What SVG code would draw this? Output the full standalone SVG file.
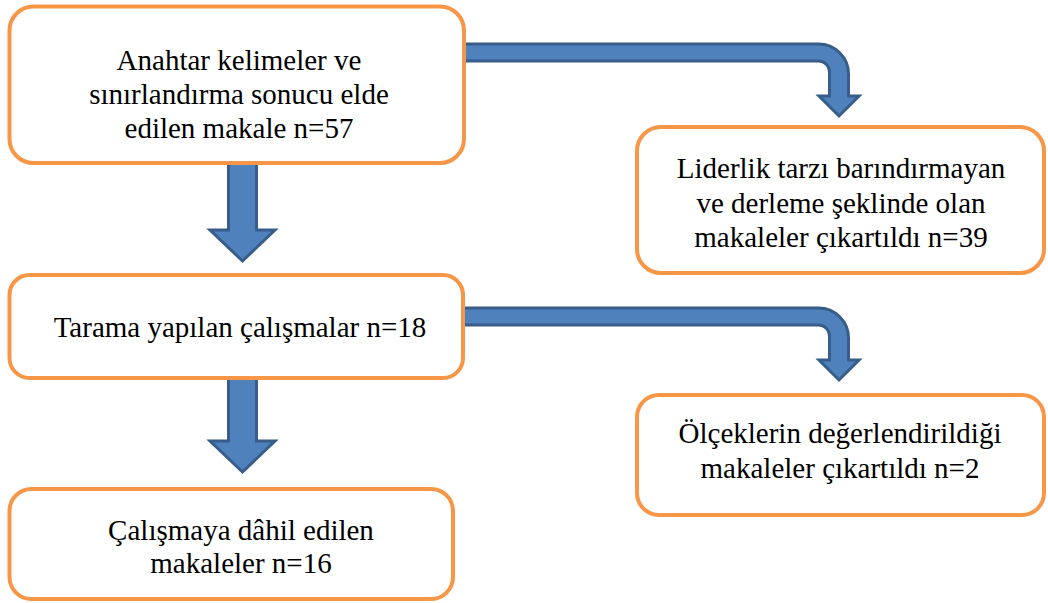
<svg xmlns="http://www.w3.org/2000/svg" width="1048" height="603" viewBox="0 0 1048 603">
<style>
.box{fill:#FFFFFF;stroke:#F79646;stroke-width:4}
.arr{fill:#4F81BD;stroke:#385D8A;stroke-width:3;stroke-linejoin:miter}
.t{font-family:'Liberation Serif','Times New Roman',serif;font-size:29px;fill:#000000;text-anchor:middle}
</style>
<rect width="1048" height="603" fill="#FFFFFF"/>
<g id="connectors">
<path class="arr" d="M 463 44 H 818.5 A 30 30 0 0 1 848.5 74 V 96 H 859 L 839 116 L 819 96 H 829.5 V 72 A 11 11 0 0 0 818.5 61 H 463 Z"/>
<path class="arr" d="M 463 308 H 818.5 A 30 30 0 0 1 848.5 338 V 360 H 859 L 839 380 L 819 360 H 829.5 V 336 A 11 11 0 0 0 818.5 325 H 463 Z"/>
<path class="arr" d="M 228.5 163 H 256.5 V 230 H 275 L 242.5 261 L 210 230 H 228.5 Z"/>
<path class="arr" d="M 228.5 378 H 256.5 V 441 H 275 L 242.5 472 L 210 441 H 228.5 Z"/>
</g>
<g id="node1">
<rect class="box" x="9.5" y="6.5" width="454.5" height="156.5" rx="24"/>
<text class="t" x="239" y="70">Anahtar kelimeler ve</text>
<text class="t" x="239" y="104">sınırlandırma sonucu elde</text>
<text class="t" x="239" y="138">edilen makale n=57</text>
</g>
<g id="node2">
<rect class="box" x="637" y="127" width="407" height="146" rx="24"/>
<text class="t" x="841" y="178">Liderlik tarzı barındırmayan</text>
<text class="t" x="841" y="212.5">ve derleme şeklinde olan</text>
<text class="t" x="841" y="247">makaleler çıkartıldı n=39</text>
</g>
<g id="node3">
<rect class="box" x="9.5" y="275" width="453.5" height="103" rx="20"/>
<text class="t" x="240" y="337">Tarama yapılan çalışmalar n=18</text>
</g>
<g id="node4">
<rect class="box" x="637" y="395" width="407" height="120" rx="22"/>
<text class="t" x="840" y="443">Ölçeklerin değerlendirildiği</text>
<text class="t" x="840" y="478">makaleler çıkartıldı n=2</text>
</g>
<g id="node5">
<rect class="box" x="9.5" y="489" width="443.5" height="110" rx="22"/>
<text class="t" x="241" y="540">Çalışmaya dâhil edilen</text>
<text class="t" x="241" y="573">makaleler n=16</text>
</g>
</svg>
